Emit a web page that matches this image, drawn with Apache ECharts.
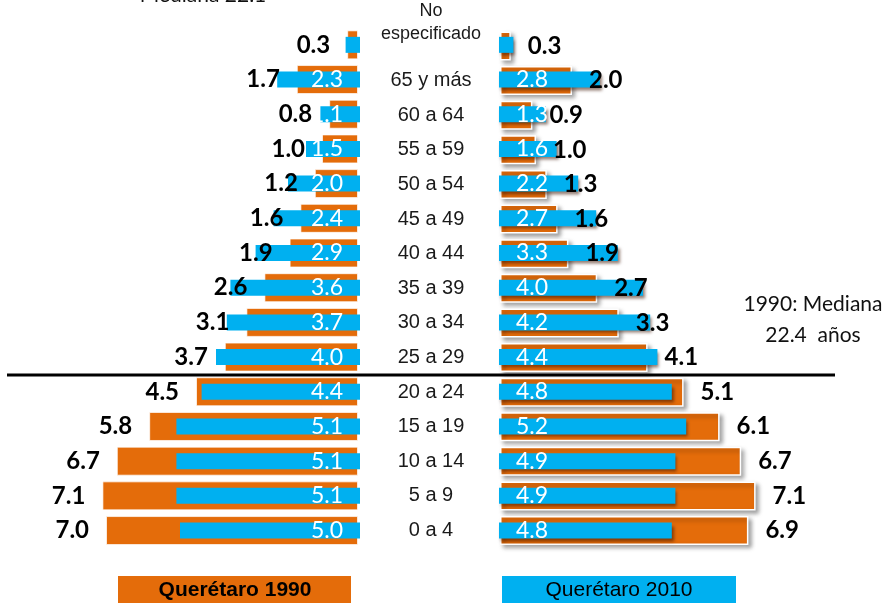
<!DOCTYPE html>
<html>
<head>
<meta charset="utf-8">
<script src="https://cdn.jsdelivr.net/npm/echarts@6/dist/echarts.min.js"></script>
<style>
  html, body { margin: 0; padding: 0; background: #fff; }
  #chart { width: 890px; height: 603px; }
</style>
</head>
<body>
<div id="chart"></div>
<script>
// Age groups, top to bottom
const ageGroups = ['No\nespecificado', '65 y más', '60 a 64', '55 a 59', '50 a 54', '45 a 49', '40 a 44',
  '35 a 39', '30 a 34', '25 a 29', '20 a 24', '15 a 19', '10 a 14', '5 a 9', '0 a 4'];

// Percent of population, left half of the pyramid
const left1990 = [0.3, 1.7, 0.8, 1.0, 1.2, 1.6, 1.9, 2.6, 3.1, 3.7, 4.5, 5.8, 6.7, 7.1, 7.0];
const left2010 = [0.4, 2.3, 1.1, 1.5, 2.0, 2.4, 2.9, 3.6, 3.7, 4.0, 4.4, 5.1, 5.1, 5.1, 5.0];

// Percent of population, right half of the pyramid
const right1990 = [0.3, 2.0, 0.9, 1.0, 1.3, 1.6, 1.9, 2.7, 3.3, 4.1, 5.1, 6.1, 6.7, 7.1, 6.9];
const right2010 = [0.4, 2.8, 1.3, 1.6, 2.2, 2.7, 3.3, 4.0, 4.2, 4.4, 4.8, 5.2, 4.9, 4.9, 4.8];

const legendNames = ['Querétaro 1990', 'Querétaro 2010'];
const medianNote = '1990: Mediana\n22.4  años';
const topNote = 'Mediana 22.1';

const ORANGE = '#E46C0A';
const BLUE = '#00B0F0';
const NUM_FONT = 'Lato, "Open Sans", sans-serif';
const SANS = '"Liberation Sans", Arial, sans-serif';
const AXIS_MAX = 9;

const chart = echarts.init(document.getElementById('chart'), null, { renderer: 'canvas' });

const gridTop = 27.5, gridH = 520.4, gridW = 324;
const grids = [
  { left: 34,  top: gridTop, width: gridW, height: gridH },  // left, 1990
  { left: 36,  top: gridTop, width: gridW, height: gridH },  // left, 2010
  { left: 500, top: gridTop, width: gridW, height: gridH },  // right, 1990
  { left: 499, top: gridTop, width: gridW, height: gridH }   // right, 2010
];

const xAxes = grids.map((g, i) => ({
  type: 'value', gridIndex: i, min: 0, max: AXIS_MAX, inverse: i < 2, show: false
}));

const yAxes = grids.map((g, i) => ({
  type: 'category', gridIndex: i, inverse: true,
  data: ageGroups.map((a, k) => k === 0
    ? { value: a, textStyle: { align: 'center', verticalAlign: 'bottom', fontSize: 18, lineHeight: 23 } }
    : a),
  axisLine: { show: false }, axisTick: { show: false }, splitLine: { show: false },
  axisLabel: {
    show: i === 2, interval: 0, align: 'center', margin: 69,
    fontFamily: SANS, fontSize: 20, color: '#1a1a1a'
  }
}));

const blackLabel = (pos) => ({
  show: true, position: pos, distance: 17,
  formatter: (p) => p.value.toFixed(1),
  fontFamily: NUM_FONT, fontWeight: 'bold', fontSize: 24, color: '#000'
});

const whiteLabel = (pos) => ({
  show: true, position: pos, distance: 17, padding: [3, 0, 0, 0],
  formatter: (p) => p.dataIndex === 0 ? '' : p.value.toFixed(1),
  fontFamily: NUM_FONT, fontSize: 23, color: '#fff'
});

const series = [
  {
    name: legendNames[0], type: 'bar', xAxisIndex: 0, yAxisIndex: 0, data: left1990,
    barWidth: 29, itemStyle: { color: ORANGE, borderColor: 'rgba(255,255,255,0.7)', borderWidth: 1 },
    label: blackLabel('left'), silent: true, animation: false
  },
  {
    name: legendNames[1], type: 'bar', xAxisIndex: 1, yAxisIndex: 1, data: left2010,
    barWidth: 16, itemStyle: { color: BLUE },
    label: whiteLabel('insideRight'), silent: true, animation: false
  },
  {
    name: legendNames[0], type: 'bar', xAxisIndex: 2, yAxisIndex: 2, data: right1990,
    barWidth: 29,
    itemStyle: {
      color: ORANGE, borderColor: '#fff', borderWidth: 1.5,
      shadowColor: 'rgba(0,0,0,0.35)', shadowBlur: 4, shadowOffsetX: 3, shadowOffsetY: 3
    },
    label: blackLabel('right'), silent: true, animation: false
  },
  {
    name: legendNames[1], type: 'bar', xAxisIndex: 3, yAxisIndex: 3, data: right2010,
    barWidth: 16,
    itemStyle: {
      color: BLUE,
      shadowColor: 'rgba(60,20,0,0.55)', shadowBlur: 3, shadowOffsetX: 2, shadowOffsetY: 3
    },
    label: whiteLabel('insideLeft'), silent: true, animation: false
  }
];

const graphic = [
  // median divider behind the bars
  { type: 'line', z: 0, shape: { x1: 7, y1: 375, x2: 835, y2: 375 }, style: { stroke: '#000', lineWidth: 3 } },
  // notes
  {
    type: 'text', z: 10, x: 203, y: 6,
    style: { text: topNote, fontFamily: NUM_FONT, fontSize: 21, fill: '#111', align: 'center', verticalAlign: 'bottom' }
  },
  {
    type: 'text', z: 10, x: 813, y: 320,
    style: { text: medianNote, fontFamily: NUM_FONT, fontSize: 21, lineHeight: 31, fill: '#111', align: 'center', verticalAlign: 'middle' }
  },
  // legend boxes
  { type: 'rect', z: 10, shape: { x: 118, y: 576, width: 233, height: 30 }, style: { fill: ORANGE } },
  {
    type: 'text', z: 11, x: 235, y: 590,
    style: { text: legendNames[0], fontFamily: SANS, fontWeight: 'bold', fontSize: 21, fill: '#000', align: 'center', verticalAlign: 'middle' }
  },
  { type: 'rect', z: 10, shape: { x: 502, y: 576, width: 234, height: 30 }, style: { fill: BLUE } },
  {
    type: 'text', z: 11, x: 619, y: 590,
    style: { text: legendNames[1], fontFamily: SANS, fontSize: 21, fill: '#000', align: 'center', verticalAlign: 'middle' }
  }
];

chart.setOption({
  animation: false,
  backgroundColor: '#fff',
  grid: grids,
  xAxis: xAxes,
  yAxis: yAxes,
  series: series,
  graphic: graphic
});
</script>
</body>
</html>
